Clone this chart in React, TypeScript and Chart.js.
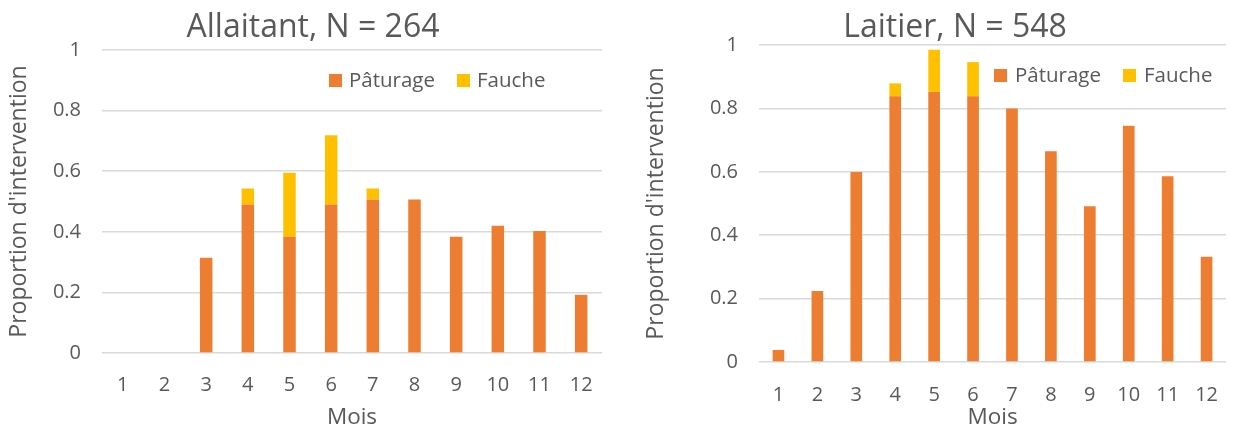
import React, { useEffect, useRef } from "react";
import { Chart, registerables } from "chart.js";

Chart.register(...registerables);

const months = ["1", "2", "3", "4", "5", "6", "7", "8", "9", "10", "11", "12"];
const seriesNames = ["Pâturage", "Fauche"];
const seriesColors = ["#ED7D31", "#FFC000"];
const yTicks = [0, 0.2, 0.4, 0.6, 0.8, 1];

const allaitantPaturage = [0, 0, 0.314, 0.49, 0.384, 0.49, 0.507, 0.507, 0.384, 0.42, 0.403, 0.192];
const allaitantFauche = [null, null, null, 0.053, 0.211, 0.229, 0.036, null, null, null, null, null];
const laitierPaturage = [0.038, 0.224, 0.599, 0.838, 0.852, 0.838, 0.8, 0.665, 0.491, 0.745, 0.586, 0.332];
const laitierFauche = [null, null, null, 0.041, 0.133, 0.108, null, null, null, null, null, null];

const titles = ["Allaitant, N = 264", "Laitier, N = 548"];
const xTitle = "Mois";
const yTitle = "Proportion d'intervention";

const FONT = "'Open Sans', 'Noto Sans', sans-serif";
const TEXT = "#595959";
const GRID = "#D9D9D9";

const overlayPlugin = {
  id: "overlay",
  afterDraw(chart: any, _args: any, opts: any) {
    const ctx = chart.ctx;
    ctx.save();
    ctx.fillStyle = TEXT;
    ctx.font = `${opts.titleSize}px ${FONT}`;
    ctx.textAlign = "center";
    ctx.textBaseline = "alphabetic";
    ctx.fillText(opts.title, opts.titleX, opts.titleY);
    ctx.font = `${opts.legendSize}px ${FONT}`;
    ctx.textAlign = "left";
    chart.data.datasets.forEach((ds: any, i: number) => {
      const item = opts.legend[i];
      ctx.fillStyle = ds.backgroundColor;
      ctx.fillRect(item.bx, item.by, opts.box, opts.box);
      ctx.fillStyle = TEXT;
      ctx.fillText(ds.label, item.tx, item.ty);
    });
    ctx.restore();
  },
};

function makeConfig(p: any[], f: any[], o: any) {
  return {
    type: "bar",
    data: {
      labels: months,
      datasets: [
        { label: seriesNames[0], data: p, backgroundColor: seriesColors[0], borderWidth: 0 },
        { label: seriesNames[1], data: f, backgroundColor: seriesColors[1], borderWidth: 0 },
      ],
    },
    options: {
      responsive: false,
      animation: false,
      datasets: { bar: { categoryPercentage: 1, barPercentage: 0.3 } },
      layout: { padding: { left: 0, right: o.padRight, top: o.padTop, bottom: 0 } },
      plugins: {
        legend: { display: false },
        title: { display: false },
        tooltip: { enabled: false },
        overlay: o.overlay,
      },
      scales: {
        x: {
          stacked: true,
          grid: { display: false, drawTicks: false },
          border: { display: false },
          ticks: { color: TEXT, font: { family: FONT, size: 20 }, padding: o.xTickPad, maxRotation: 0, autoSkip: false },
          title: { display: true, text: xTitle, color: TEXT, font: { family: FONT, size: 22.5 }, padding: { top: 0, bottom: -1 } },
          afterFit: (s: any) => { s.height = o.xHeight; },
        },
        y: {
          stacked: true,
          min: 0,
          max: 1,
          afterBuildTicks: (s: any) => { s.ticks = yTicks.map((v) => ({ value: v })); },
          grid: { color: GRID, lineWidth: 1.5, drawTicks: false },
          border: { display: false },
          ticks: {
            color: TEXT,
            font: { family: FONT, size: 20 },
            padding: 21,
            callback: (v: any) => String(Number(Number(v).toFixed(1))),
          },
          title: { display: true, text: yTitle, color: TEXT, font: { family: FONT, size: 23 }, padding: { top: o.yTitlePad, bottom: 0 } },
          afterFit: (s: any) => { s.width = o.yWidth; },
        },
      },
    },
    plugins: [overlayPlugin],
  };
}

function ChartCanvas({ config, left, width }: any) {
  const ref = useRef<HTMLCanvasElement>(null);
  useEffect(() => {
    const chart = new Chart(ref.current as any, config as any);
    return () => chart.destroy();
  }, []);
  return (
    <canvas
      ref={ref}
      width={width}
      height={430}
      style={{ position: "absolute", left, top: 0, width, height: 430 }}
    />
  );
}

export default function App() {
  const leftCfg = makeConfig(allaitantPaturage, allaitantFauche, {
    padRight: 18,
    padTop: 50,
    xHeight: 77,
    yWidth: 102,
    xTickPad: 20,
    yTitlePad: 6,
    overlay: {
      title: titles[0], titleX: 313, titleY: 37, titleSize: 32,
      legendSize: 20.5, box: 13,
      legend: [
        { bx: 329, by: 74, tx: 349, ty: 87 },
        { bx: 457, by: 74, tx: 477, ty: 87 },
      ],
    },
  });
  const rightCfg = makeConfig(laitierPaturage, laitierFauche, {
    padRight: 0,
    padTop: 45,
    xHeight: 68,
    yWidth: 139,
    xTickPad: 21,
    yTitlePad: 23,
    overlay: {
      title: titles[1], titleX: 335, titleY: 37, titleSize: 32,
      legendSize: 20.5, box: 13,
      legend: [
        { bx: 374, by: 69, tx: 395, ty: 82 },
        { bx: 503, by: 69, tx: 524, ty: 82 },
      ],
    },
  });
  return (
    <div style={{ position: "fixed", left: 0, top: 0, width: 1239, height: 430, background: "#fff" }}>
      <ChartCanvas config={leftCfg} left={0} width={620} />
      <ChartCanvas config={rightCfg} left={620} width={619} />
    </div>
  );
}
